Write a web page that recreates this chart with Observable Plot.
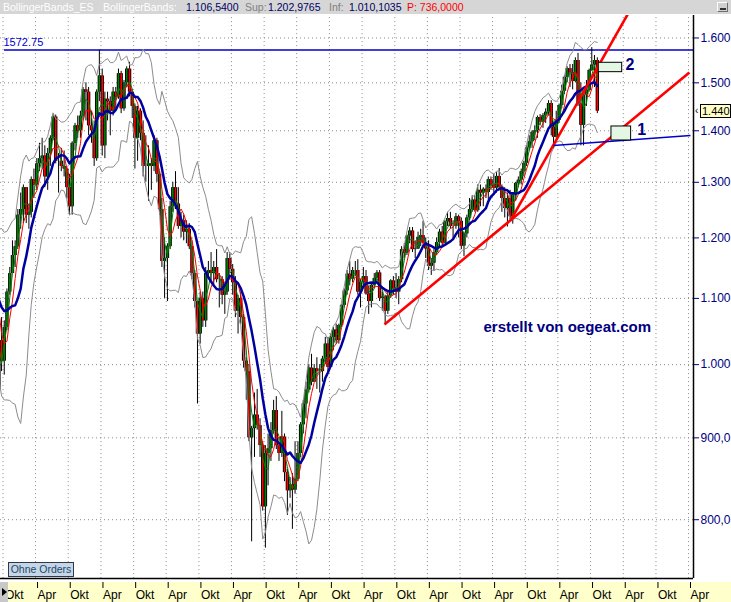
<!DOCTYPE html>
<html>
<head>
<meta charset="utf-8">
<script src="https://cdn.jsdelivr.net/npm/d3@7"></script>
<script src="https://cdn.jsdelivr.net/npm/@observablehq/plot@0.6"></script>
<style>
  body { margin: 0; background: #fff; font-family: "Liberation Sans", Arial, sans-serif; }
  #wrap { position: relative; width: 731px; height: 602px; overflow: hidden; background: #fff; }
  #hdr { position: absolute; left: 0; top: 0; width: 731px; height: 14px; background: #d6d6d6; font-size: 10.5px; line-height: 14px; z-index: 3; }
  #hdr span { position: absolute; top: 0; white-space: nowrap; }
  #btn { position: absolute; left: 717px; top: 2px; width: 11px; height: 10px; background: #d0d0d0; border-top: 1px solid #fff; border-left: 1px solid #fff; border-right: 1px solid #707070; border-bottom: 1px solid #707070; box-sizing: border-box; }
  #btn i { position: absolute; left: 2px; top: 5px; width: 6px; height: 2px; background: #333; }
  #band { position: absolute; left: 0; top: 582px; width: 731px; height: 20px; background: #ffffcc; z-index: 0; }
  #chart { position: absolute; left: 0; top: 0; z-index: 1; }
  #arrowbox { position: absolute; left: 0; top: 582px; width: 8px; height: 20px; background: #c8c8c8; z-index: 4; }
  #arrowbox i { position: absolute; left: 2px; top: 6px; width: 0; height: 0; border-top: 4px solid transparent; border-bottom: 4px solid transparent; border-left: 5px solid #000; }
  #orders { position: absolute; left: 8px; top: 562px; width: 66px; height: 15px; box-sizing: border-box; border: 1px solid #2a3a4a; background: #c6d6e6; color: #1a4a6a; font-size: 10.5px; line-height: 13px; text-align: center; white-space: nowrap; overflow: hidden; z-index: 4; }
  #price { position: absolute; left: 700px; width: 31px; height: 14px; box-sizing: border-box; border: 1px solid #000; background: #ffffc8; color: #000; font-size: 11px; line-height: 12px; padding-left: 1px; white-space: nowrap; z-index: 4; }
  #pricearrow { position: absolute; left: 695px; font-size: 10px; line-height: 12px; color: #000; z-index: 4; }
</style>
</head>
<body>
<div id="wrap">
  <div id="hdr">
    <span style="left:3px;color:#fff">BollingerBands_ES</span>
    <span style="left:103px;color:#fff">BollingerBands:</span>
    <span style="left:186px;color:#000066">1.106,5400</span>
    <span style="left:245px;color:#7f7f7f">Sup:</span>
    <span style="left:268px;color:#000066">1.202,9765</span>
    <span style="left:329px;color:#7f7f7f">Inf:</span>
    <span style="left:349px;color:#000066">1.010,1035</span>
    <span style="left:407px;color:#ff0000">P: 736,0000</span>
    <div id="btn"><i></i></div>
  </div>
  <div id="band"></div>
  <div id="chart"></div>
  <div id="arrowbox"><i></i></div>
  <div id="orders">Ohne Orders</div>
</div>
<script>
// Semi-monthly periods starting 1998-04-16 (first and second half of each month)
const firstOpen = 1112;
const closes = [
  1118,1116,1100,1098,1142,1175,1130,1095,965,1035,1005,1055,1110,1140,1170,1185,1240,
  1250,1290,1240,1245,1305,1295,1335,1345,1350,1310,1355,1385,1428,1340,1340,1330,1325,1290,1255,1375,1410,1400,1430,1485,
  1480,1410,1400,1345,1480,1515,1370,1465,1460,1440,1480,1470,1520,1445,1500,1530,1480,1450,1385,1440,1395,1330,1330,1335,
  1330,1380,1315,1250,1160,1165,1185,1255,1290,1260,1220,1230,1210,1215,1185,1140,1095,1045,1100,1065,1140,1145,1140,1150,
  1130,1130,1105,1110,1165,1147,1125,1080,1100,1070,1005,990,900,912,930,916,890,815,880,886,909,936,890,880,
  901,856,834,841,835,848,880,917,945,964,995,975,994,990,990,1008,1030,996,1040,1051,1035,1058,1089,1112,
  1139,1131,1145,1145,1110,1126,1135,1107,1095,1121,1132,1141,1100,1102,1080,1104,1128,1115,1110,1130,1180,1174,1203,1212,
  1180,1181,1201,1204,1191,1181,1152,1157,1175,1192,1210,1191,1228,1234,1220,1220,1237,1229,1186,1207,1235,1250,1267,1248,
  1285,1280,1287,1281,1305,1295,1289,1311,1291,1270,1252,1270,1237,1277,1298,1304,1320,1336,1366,1378,1397,1400,1427,1418,
  1431,1438,1456,1407,1387,1421,1452,1482,1512,1531,1522,1503,1549,1455,1411,1474,1484,1527,1539,1549,1440
];
const highs = [
  1130,1132,1125,1120,1146,1180,1200,1135,1105,1050,1070,1065,1115,1150,1195,1195,1250,
  1280,1295,1290,1260,1310,1325,1345,1375,1385,1370,1365,1390,1433,1432,1355,1365,1360,1330,1315,1378,1415,1430,1440,1490,
  1500,1490,1440,1420,1485,1572,1530,1480,1480,1470,1490,1490,1530,1525,1505,1535,1545,1485,1455,1450,1445,1420,1390,1370,
  1345,1390,1385,1320,1270,1200,1190,1265,1300,1320,1290,1245,1240,1230,1225,1195,1145,1095,1110,1110,1150,1160,1175,1160,
  1180,1140,1135,1120,1175,1175,1155,1135,1105,1110,1075,1010,1000,915,960,965,925,895,890,905,920,950,955,900,
  935,905,860,850,855,895,895,920,950,975,1000,1015,1000,1010,1000,1012,1040,1040,1045,1055,1060,1060,1090,1115,
  1145,1160,1150,1160,1163,1130,1150,1145,1120,1125,1140,1145,1145,1110,1105,1110,1130,1135,1140,1135,1185,1190,1205,1218,
  1218,1195,1210,1215,1229,1200,1195,1165,1180,1200,1215,1220,1230,1245,1245,1230,1243,1240,1235,1210,1240,1270,1275,1275,
  1295,1295,1290,1295,1310,1310,1315,1318,1326,1295,1290,1280,1285,1280,1300,1310,1325,1340,1370,1390,1400,1410,1430,1433,
  1435,1445,1462,1462,1415,1440,1455,1495,1515,1535,1540,1540,1555,1565,1500,1480,1505,1530,1578,1560,1555
];
const lows = [
  1100,1106,1090,1085,1090,1138,1125,1080,950,955,990,985,1050,1105,1140,1150,1180,
  1215,1225,1225,1215,1235,1270,1285,1320,1325,1290,1285,1330,1380,1335,1280,1320,1310,1270,1240,1240,1360,1385,1385,1420,
  1420,1390,1375,1330,1340,1460,1350,1345,1420,1390,1430,1445,1465,1435,1440,1490,1470,1425,1325,1340,1380,1310,1300,1265,
  1285,1320,1300,1240,1150,1100,1095,1180,1245,1250,1215,1200,1195,1190,1180,1130,1085,945,1030,1055,1055,1130,1125,1120,
  1125,1085,1090,1075,1105,1140,1105,1070,1045,1060,995,950,895,775,875,910,875,810,768,840,870,905,885,870,
  875,845,805,825,789,830,845,875,905,925,960,970,975,965,960,975,1000,990,995,1020,1030,1030,1055,1085,
  1105,1120,1125,1135,1105,1085,1120,1105,1075,1085,1115,1125,1095,1080,1060,1075,1100,1105,1100,1090,1125,1165,1170,1190,
  1175,1165,1180,1185,1185,1165,1145,1137,1145,1170,1185,1185,1190,1220,1215,1200,1215,1200,1180,1168,1200,1230,1245,1245,
  1245,1255,1255,1270,1265,1285,1280,1280,1285,1245,1235,1219,1232,1224,1265,1290,1295,1310,1330,1360,1365,1380,1385,1410,
  1405,1415,1430,1390,1364,1385,1415,1445,1475,1500,1490,1485,1500,1450,1370,1370,1450,1480,1525,1490,1435
];

// Axis ticks and labels
const yTickValues = [800, 900, 1000, 1100, 1200, 1300, 1400, 1500, 1600];
const monthLabels = { 3: "Apr", 9: "Okt" };

// Annotation lines (date, price)
const resistance = 1572.75;
const redTrends = [
  { x1: "2004-08-04", y1: 1059.5, x2: "2009-04-06", y2: 1522.5 },
  { x1: "2006-07-10", y1: 1230.4, x2: "2008-04-28", y2: 1657 }
];
const blueTrend = [{ x1: "2007-03-08", y1: 1370.7, x2: "2009-04-12", y2: 1390.5 }];
const boxes = [
  { x1: "2007-11-16", x2: "2008-03-26", y1: 1523.2, y2: 1543.9 },
  { x1: "2008-01-26", x2: "2008-05-15", y1: 1380.6, y2: 1408.7 }
];
const boxLabels = [
  { x: "2008-04-13", y: 1539, text: "2" },
  { x: "2008-06-19", y: 1401.6, text: "1" }
];
const watermark = [{ x: "2006-02-09", y: 1055.5, text: "erstellt von oegeat.com" }];

// ---- build tables ----
const periodStart = [];
{
  let y = 1998, m = 3, d = 16;
  for (let i = 0; i < closes.length; i++) {
    periodStart.push(new Date(Date.UTC(y, m, d)));
    if (d === 16) { d = 1; m++; if (m > 11) { m = 0; y++; } } else d = 16;
  }
}
const candles = closes.map((c, i) => ({
  date: new Date(+periodStart[i] + 7 * 864e5),
  open: i ? closes[i - 1] : firstOpen,
  close: c, high: highs[i], low: lows[i]
}));
candles.forEach(d => d.color = d.close >= d.open ? "#008000" : "#ff0000");

function sma(k) {
  return candles.map((d, i) => i < k - 1 ? null : { date: d.date, v: d3.mean(closes.slice(i - k + 1, i + 1)) }).filter(Boolean);
}
const boll = candles.map((d, i) => {
  if (i < 9) return null;
  const w = closes.slice(i - 9, i + 1);
  const m = d3.mean(w);
  const sd = d3.deviation(w);
  return { date: d.date, mid: m, up: m + 2 * sd, lo: m - 2 * sd };
}).filter(Boolean);
const maGreen = sma(3), maRed = sma(5);

const parse = s => new Date(s + "T00:00:00Z");
const fixLinks = arr => arr.map(d => ({ ...d, x1: parse(d.x1), x2: parse(d.x2) }));
const xTicks = d3.utcMonths(parse("1998-10-01"), parse("2009-04-02"), 6);
const xDomain = [parse("1998-09-17"), parse("2009-04-29")];
const yDomain = [730.9, 1652.6];
const frameBottom = 735;

const fmtY = d => d >= 1000 ? d3.format(",.0f")(d).replace(",", ".") : d3.format(".1f")(d).replace(".", ",");

const plot = Plot.plot({
  width: 731, height: 602,
  marginTop: 15, marginBottom: 20, marginLeft: 0, marginRight: 38,
  x: { type: "utc", domain: xDomain },
  y: { type: "log", domain: yDomain },
  style: { background: "transparent", fontFamily: "'Liberation Sans', Arial, sans-serif", color: "black", overflow: "visible" },
  marks: [
    Plot.ruleY(yTickValues, { stroke: "#8a8a8a", strokeDasharray: "1,3" }),
    Plot.ruleX(xTicks, { y1: frameBottom, y2: yDomain[1], stroke: "#8a8a8a", strokeDasharray: "1,3" }),
    Plot.ruleY([resistance], { x1: xDomain[0], x2: xDomain[1], dx: 4, stroke: "#0000cc", strokeWidth: 1.5, clip: true }),
    Plot.text([resistance], { x: xDomain[0], y: d => d, text: d => String(d), textAnchor: "start", dx: 3, dy: -7, fill: "#0000cc", fontSize: 11 }),
    // candles
    Plot.ruleX(candles, { x: "date", y1: "low", y2: "high", stroke: "#000", strokeWidth: 1, clip: true }),
    Plot.ruleX(candles, { x: "date", y1: "open", y2: "close", stroke: "#000", strokeWidth: 3.4, clip: true }),
    Plot.ruleX(candles, { x: "date", y1: "open", y2: "close", stroke: "color", strokeWidth: 1.6, clip: true }),
    // Bollinger bands & averages
    Plot.line(boll, { x: "date", y: "up", stroke: "#8c8c8c", strokeWidth: 1, clip: true }),
    Plot.line(boll, { x: "date", y: "lo", stroke: "#8c8c8c", strokeWidth: 1, clip: true }),
    Plot.line(maGreen, { x: "date", y: "v", stroke: "#008000", strokeWidth: 1, clip: true }),
    Plot.line(maRed, { x: "date", y: "v", stroke: "#ff0000", strokeWidth: 1, clip: true }),
    Plot.line(boll, { x: "date", y: "mid", stroke: "#0000a0", strokeWidth: 2.5, clip: true }),
    // annotations
    Plot.link(fixLinks(redTrends), { x1: "x1", y1: "y1", x2: "x2", y2: "y2", stroke: "#ff0000", strokeWidth: 2.6, clip: true }),
    Plot.link(fixLinks(blueTrend), { x1: "x1", y1: "y1", x2: "x2", y2: "y2", stroke: "#0000cc", strokeWidth: 1.3, clip: true }),
    Plot.rect(fixLinks(boxes), { x1: "x1", x2: "x2", y1: "y1", y2: "y2", fill: "#e4f7e4", stroke: "#000", strokeWidth: 1 }),
    Plot.text(boxLabels.map(d => ({ ...d, x: parse(d.x) })), { x: "x", y: "y", text: "text", textAnchor: "start", fill: "#000080", fontWeight: "bold", fontSize: 16 }),
    Plot.text(watermark.map(d => ({ ...d, x: parse(d.x) })), { x: "x", y: "y", text: "text", textAnchor: "start", fill: "#000080", fontWeight: "bold", fontSize: 15 }),
    // frame
    Plot.ruleY([frameBottom], { stroke: "#000", strokeWidth: 1.5 }),
    Plot.ruleX([xDomain[1]], { y1: frameBottom, y2: yDomain[1], stroke: "#000", strokeWidth: 1.5 }),
    // axes
    Plot.axisY({ anchor: "right", ticks: yTickValues, tickSize: 5, tickPadding: 2, tickFormat: fmtY, fontSize: 12, color: "#000080", label: null }),
    Plot.axisX({ anchor: "bottom", ticks: xTicks, tickSize: 6, tickPadding: 2, tickFormat: d => monthLabels[d.getUTCMonth()], textAnchor: "start", dx: 2, fontSize: 12, color: "#000", label: null })
  ]
});
document.getElementById("chart").appendChild(plot);

// current price marker on the right axis
const lastClose = closes[closes.length - 1];
const py = plot.scale("y").apply(lastClose);
const wrap = document.getElementById("wrap");
const box = document.createElement("div");
box.id = "price";
box.style.top = (py - 7) + "px";
box.textContent = d3.format(",.0f")(lastClose).replace(",", ".");
wrap.appendChild(box);
const arr = document.createElement("div");
arr.id = "pricearrow";
arr.style.top = (py - 6) + "px";
arr.textContent = "\u2039";
wrap.appendChild(arr);
</script>
</body>
</html>
